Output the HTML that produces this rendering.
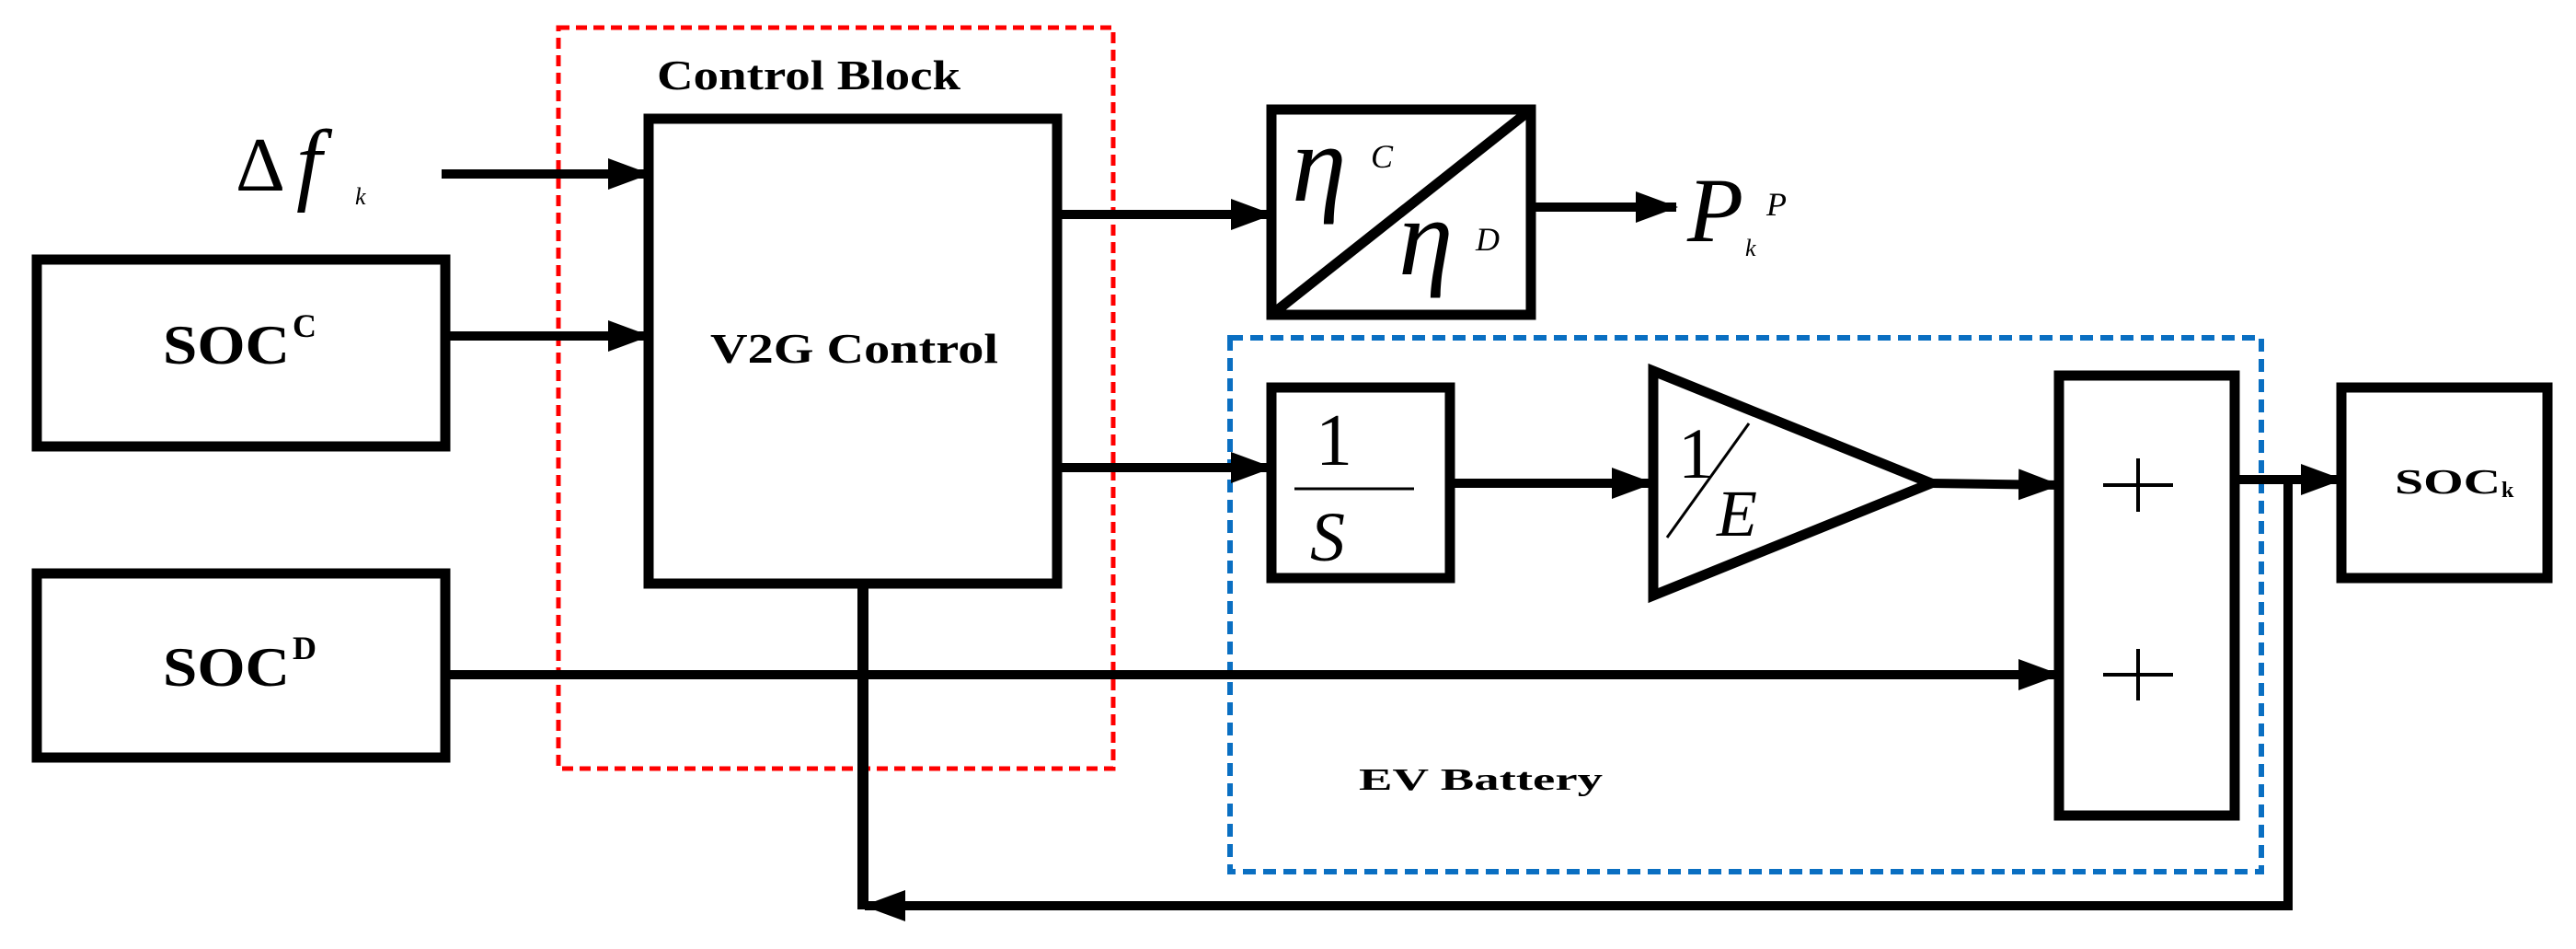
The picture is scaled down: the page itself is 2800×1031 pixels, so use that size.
<!DOCTYPE html>
<html><head><meta charset="utf-8"><style>html,body{margin:0;padding:0;background:#fff}svg{display:block}</style></head>
<body>
<svg width="2800" height="1031" viewBox="0 0 2800 1031" xmlns="http://www.w3.org/2000/svg">
<defs>
<marker id="a" markerUnits="userSpaceOnUse" markerWidth="46" markerHeight="34" refX="44" refY="17" orient="auto">
<path d="M0,0 L46,17 L0,34 Z" fill="#000"/></marker>
</defs>
<g fill="none" stroke="#000" stroke-width="11">
<rect x="607" y="30" width="603" height="805" stroke="#f00" stroke-width="5" stroke-dasharray="12,7"/>
<rect x="1337" y="367" width="1121" height="580" stroke="#0a6fc2" stroke-width="6" stroke-dasharray="14,8"/>
<rect x="40" y="282" width="444" height="203"/>
<rect x="40" y="623" width="444" height="200"/>
<rect x="705" y="129" width="444" height="505"/>
<rect x="1382" y="119" width="282" height="223"/>
<line x1="1382" y1="342" x2="1664" y2="119"/>
<rect x="1382" y="421" width="194" height="207"/>
<path d="M1797,403 L2099,525 L1797,647 Z" stroke-linejoin="miter"/>
<rect x="2238" y="408" width="191" height="478"/>
<rect x="2545" y="421" width="224" height="207"/>
<g stroke-width="10">
<line x1="480" y1="189" x2="705" y2="189" marker-end="url(#a)"/>
<line x1="484" y1="365" x2="705" y2="365" marker-end="url(#a)"/>
<line x1="1149" y1="233" x2="1382" y2="233" marker-end="url(#a)"/>
<line x1="1664" y1="225" x2="1822" y2="225" marker-end="url(#a)"/>
<line x1="1149" y1="508" x2="1382" y2="508" marker-end="url(#a)"/>
<line x1="1576" y1="525" x2="1796" y2="525" marker-end="url(#a)"/>
<line x1="2099" y1="525" x2="2238" y2="527" marker-end="url(#a)"/>
<line x1="484" y1="733" x2="2238" y2="733" marker-end="url(#a)"/>
<line x1="2429" y1="521" x2="2545" y2="521" marker-end="url(#a)"/>
<polyline points="2487,521 2487,984 1000,984" fill="none"/>
<line x1="1030" y1="984" x2="940" y2="984" marker-end="url(#a)"/>
</g>
<line x1="938" y1="634" x2="938" y2="988" stroke-width="12"/>
<line x1="1407" y1="531" x2="1537" y2="531" stroke-width="3"/>
<line x1="1901" y1="460" x2="1812" y2="584" stroke-width="3"/>
<g stroke-width="4">
<line x1="2286" y1="527" x2="2362" y2="527"/><line x1="2324" y1="498" x2="2324" y2="556"/>
<line x1="2286" y1="733" x2="2362" y2="733"/><line x1="2324" y1="705" x2="2324" y2="761"/>
</g>
</g>
<g font-family="'Liberation Serif', serif" fill="#000">
<text x="714" y="97" font-size="46" font-weight="bold" textLength="330" lengthAdjust="spacingAndGlyphs">Control Block</text>
<text x="772" y="394" font-size="46" font-weight="bold" textLength="313" lengthAdjust="spacingAndGlyphs">V2G Control</text>
<text x="177" y="395" font-size="60" font-weight="bold" textLength="138" lengthAdjust="spacingAndGlyphs">SOC</text>
<text x="318" y="366" font-size="36" font-weight="bold">C</text>
<text x="177" y="745" font-size="60" font-weight="bold" textLength="138" lengthAdjust="spacingAndGlyphs">SOC</text>
<text x="318" y="716" font-size="36" font-weight="bold">D</text>
<text x="2603" y="536" font-size="38" font-weight="bold" textLength="115" lengthAdjust="spacingAndGlyphs">SOC</text>
<text x="2719" y="540" font-size="24" font-weight="bold">k</text>
<text x="1477" y="858" font-size="34" font-weight="bold" textLength="265" lengthAdjust="spacingAndGlyphs">EV Battery</text>
<text x="256" y="207" font-size="84">Δ</text>
<text x="322" y="210" font-size="100" font-style="italic">f</text>
<text x="386" y="222" font-size="26" font-style="italic">k</text>
<text x="1404" y="218" font-size="120" font-style="italic">η</text>
<text x="1490" y="182" font-size="36" font-style="italic">C</text>
<text x="1520" y="298" font-size="120" font-style="italic">η</text>
<text x="1604" y="272" font-size="36" font-style="italic">D</text>
<text x="1834" y="262" font-size="100" font-style="italic">P</text>
<text x="1920" y="234" font-size="36" font-style="italic">P</text>
<text x="1897" y="278" font-size="26" font-style="italic">k</text>
<text x="1430" y="505" font-size="80">1</text>
<text x="1424" y="609" font-size="76" font-style="italic">S</text>
<text x="1824" y="519" font-size="78">1</text>
<text x="1866" y="582" font-size="72" font-style="italic">E</text>
</g>
</svg>
</body></html>
